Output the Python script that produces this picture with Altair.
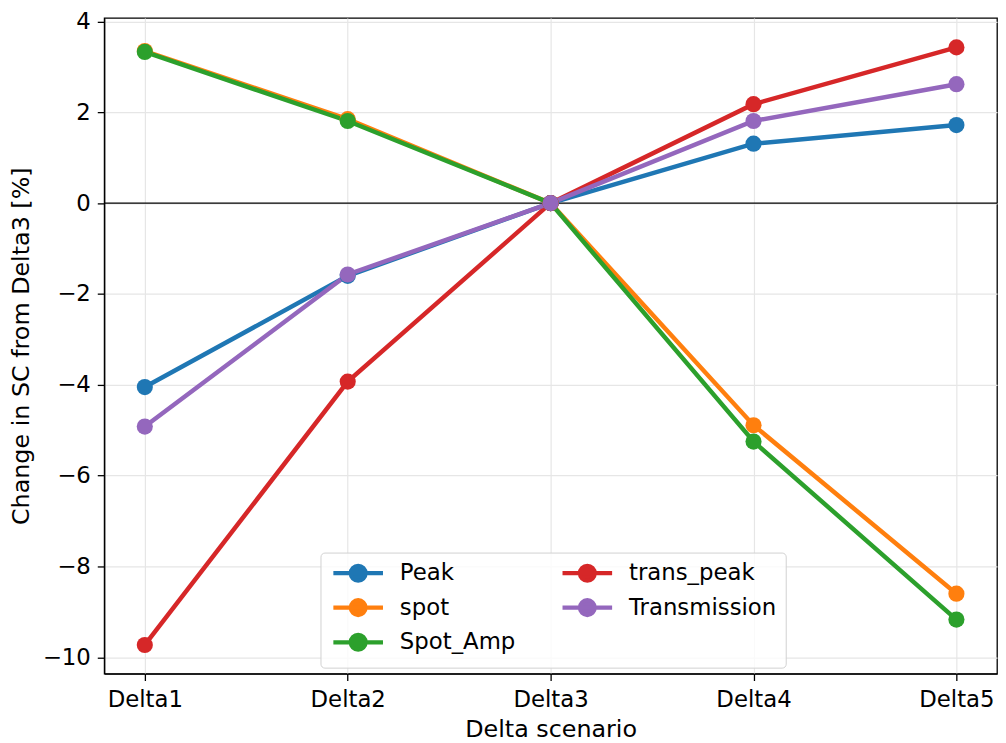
import altair as alt
import pandas as pd

scenarios = ["Delta1", "Delta2", "Delta3", "Delta4", "Delta5"]
series_names = ["Peak", "spot", "Spot_Amp", "trans_peak", "Transmission"]
peak = [-4.05, -1.60, 0.0, 1.31, 1.72]
spot = [3.35, 1.85, 0.0, -4.89, -8.60]
spot_amp = [3.33, 1.81, 0.0, -5.25, -9.17]
trans_peak = [-9.73, -3.93, 0.0, 2.18, 3.43]
transmission = [-4.92, -1.57, 0.0, 1.81, 2.62]
colors = ["#1f77b4", "#ff7f0e", "#2ca02c", "#d62728", "#9467bd"]
y_ticks = [-10, -8, -6, -4, -2, 0, 2, 4]
baseline = [0]

values = [peak, spot, spot_amp, trans_peak, transmission]
rows = []
for name, vals in zip(series_names, values):
    for s, v in zip(scenarios, vals):
        rows.append({"scenario": s, "series": name, "value": v})
df = pd.DataFrame(rows)

FONT = "DejaVu Sans"
color_scale = alt.Scale(domain=series_names, range=colors)
x_enc = alt.X("scenario:N", sort=scenarios,
              scale=alt.Scale(type="point", padding=0.2),
              axis=alt.Axis(title="Delta scenario", labelAngle=0, grid=True,
                            labelPadding=8, titlePadding=6))
y_enc = alt.Y("value:Q", scale=alt.Scale(domain=[-10.36, 4.08], nice=False, zero=False),
              axis=alt.Axis(title="Change in SC from Delta3 [%]", values=y_ticks, format="d",
                            labelPadding=7, titlePadding=9))

legend = alt.Legend(
    title=None, orient="none", legendX=218, legendY=539, columns=2, direction="vertical",
    symbolType="M-1,0L5.667,0M3.333,0A1,1,0,1,1,1.333,0A1,1,0,1,1,3.333,0",
    symbolSize=225, symbolStrokeWidth=4.2, labelFontSize=23, labelFont=FONT,
    labelColor="black", labelOffset=48, columnPadding=38, rowPadding=2, padding=9,
    fillColor="rgba(255,255,255,0.8)", strokeColor="#d0d0d0", cornerRadius=4,
)

zero = alt.Chart(pd.DataFrame({"y": baseline})).mark_rule(color="black", strokeWidth=1.3).encode(y="y:Q")

lines = alt.Chart(df).mark_line(strokeWidth=4.5).encode(
    x=x_enc, y=y_enc,
    stroke=alt.Stroke("series:N", scale=color_scale, legend=legend),
    detail="series:N",
)
points = alt.Chart(df).mark_circle(size=265, opacity=1).encode(
    x=x_enc, y=y_enc,
    fill=alt.Fill("series:N", scale=color_scale, legend=legend),
)

chart = alt.layer(zero, lines, points).properties(
    width=900, height=661,
    autosize=alt.AutoSizeParams(type="none"),
    padding={"left": 97, "top": 7, "right": 1, "bottom": 67},
).configure_view(
    stroke="black", strokeWidth=1.3
).configure_axis(
    labelFont=FONT, titleFont=FONT, labelFontSize=23, titleFontSize=24,
    labelColor="black", titleColor="black", titleFontWeight="normal",
    domainColor="black", domainWidth=1.3, tickColor="black", tickWidth=1.3, tickSize=7,
    gridColor="#e6e6e6", gridWidth=1.2,
)

chart.save("out.html", embed_options={"renderer": "svg", "actions": False})
